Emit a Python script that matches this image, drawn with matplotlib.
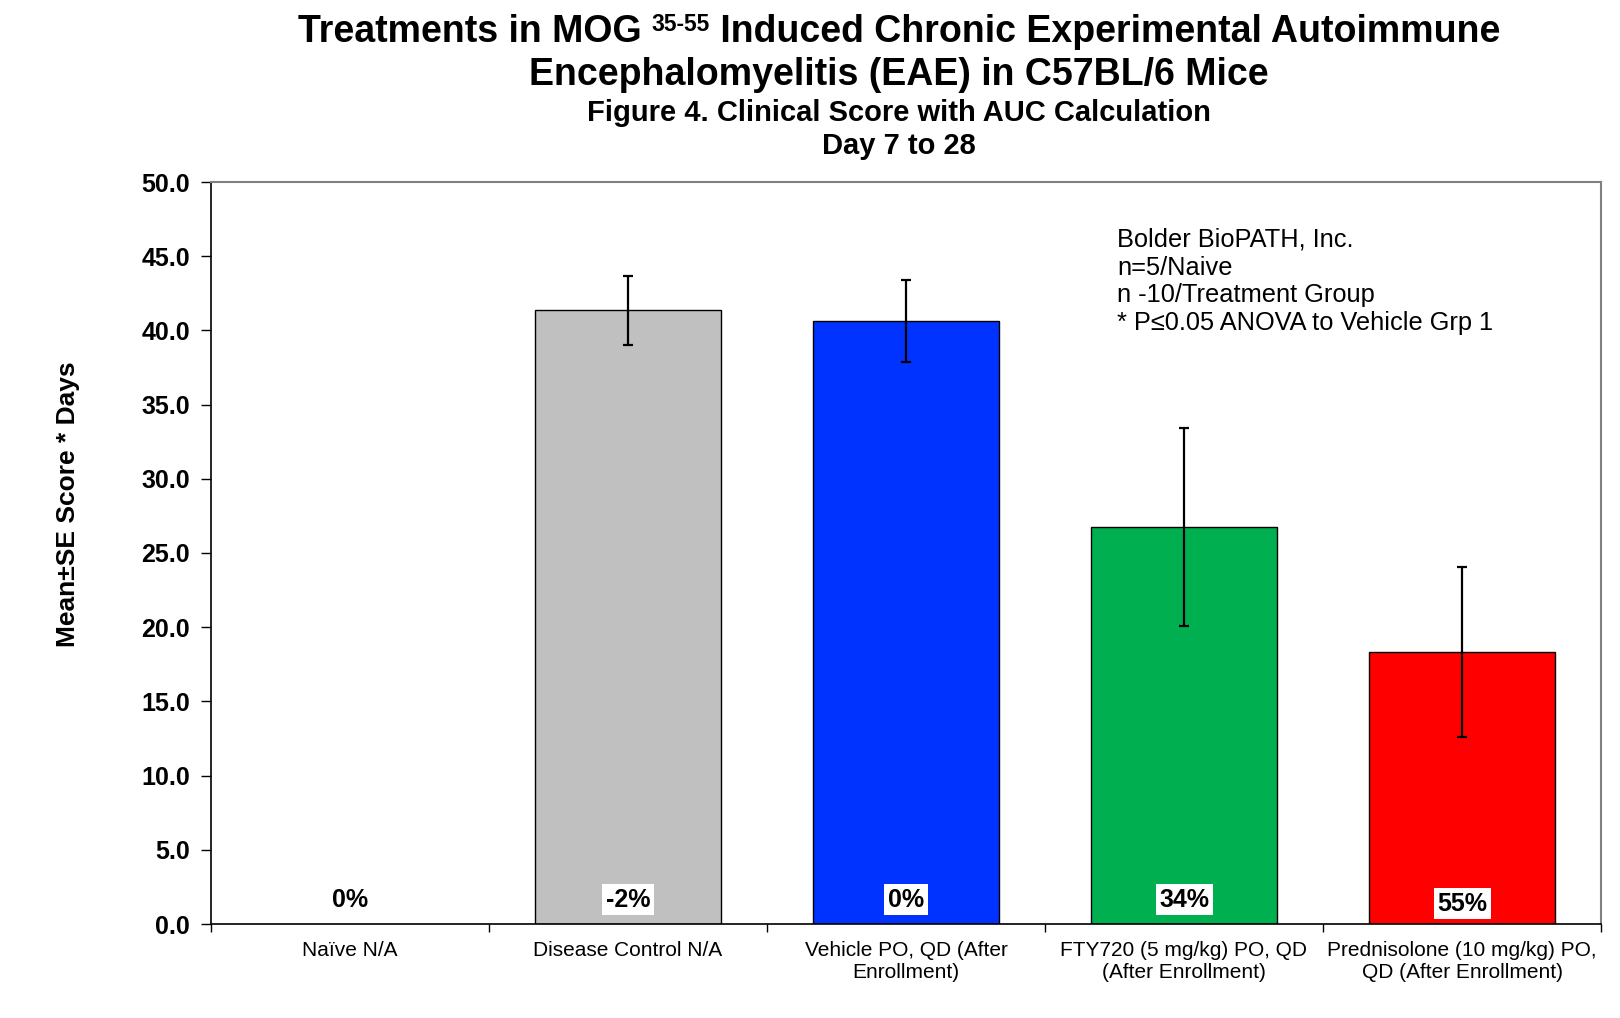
import matplotlib
matplotlib.use("Agg")
import matplotlib.pyplot as plt
import numpy as np

plt.rcParams['font.family'] = ['Liberation Sans', 'DejaVu Sans']

categories = ["Naïve N/A", "Disease Control N/A", "Vehicle PO, QD (After\nEnrollment)",
              "FTY720 (5 mg/kg) PO, QD\n(After Enrollment)", "Prednisolone (10 mg/kg) PO,\nQD (After Enrollment)"]
means = [0.0, 41.35, 40.63, 26.75, 18.31]
sems = [0.0, 2.33, 2.76, 6.70, 5.73]
pct_labels = ["0%", "-2%", "0%", "34%", "55%"]
pct_y = [1.65, 1.65, 1.65, 1.65, 1.35]
colors = ["#FFFFFF", "#C0C0C0", "#0033FF", "#00B050", "#FF0000"]
yticks = np.arange(0, 50.1, 5)

W, H = 1620, 1018
fig = plt.figure(figsize=(W/100, H/100), dpi=100)
ax = fig.add_axes([211/W, 1-924/H, (1601-211)/W, (924-182)/H])

x = np.arange(len(categories))
ax.bar(x, means, width=0.666, color=colors, edgecolor=["none"] + ["black"]*4, linewidth=1.0, zorder=2)
ax.errorbar(x[1:], means[1:], yerr=sems[1:], fmt='none', ecolor='black', elinewidth=1.6,
            capsize=3.6, capthick=1.6, zorder=3)

for xi, lab, yy in zip(x, pct_labels, pct_y):
    ax.text(xi, yy, lab, ha='center', va='center', fontsize=18, fontweight='bold',
            bbox=dict(facecolor='white', edgecolor='none', pad=2.5), zorder=4)

ax.set_xlim(-0.5, len(categories)-0.5)
ax.set_ylim(0, 50)
ax.set_yticks(yticks)
ax.set_yticklabels([f"{v:.1f}" for v in yticks], fontsize=18, fontweight='bold')
ax.tick_params(axis='y', direction='out', length=7, width=1, pad=8)
ax.set_xticks(x)
ax.set_xticklabels(categories, fontsize=15, linespacing=1.2)
ax.tick_params(axis='x', which='major', length=0, pad=12)
ax.set_xticks(np.arange(-0.5, len(categories), 1), minor=True)
ax.tick_params(axis='x', which='minor', direction='out', length=6, width=1)

for s in ['top', 'right']:
    ax.spines[s].set_color('#808080')
    ax.spines[s].set_linewidth(1.5)
for s in ['left', 'bottom']:
    ax.spines[s].set_color('black')
    ax.spines[s].set_linewidth(1.2)

fig.text(68/W, 1-504/H, "Mean±SE Score * Days", rotation=90, ha='center', va='center',
         fontsize=19, fontweight='bold')

ax.text(1117/W, 1-228/H, "Bolder BioPATH, Inc.\nn=5/Naive\nn -10/Treatment Group\n* P≤0.05 ANOVA to Vehicle Grp 1",
        transform=fig.transFigure, ha='left', va='top', fontsize=18.3, linespacing=1.19)

# Title line 1 with superscript
renderer = fig.canvas.get_renderer()
parts = [("Treatments in MOG ", 27, 0), ("35-55", 16.5, 11), (" Induced Chronic Experimental Autoimmune", 27, 0)]
widths = []
for txt, fs, rise in parts:
    t = fig.text(0, 0, txt, fontsize=fs, fontweight='bold')
    bb = t.get_window_extent(renderer)
    widths.append(bb.width)
    t.remove()
cx = 899
xs = cx - sum(widths)/2
base_y = 1 - 42/H
for (txt, fs, rise), w in zip(parts, widths):
    fig.text(xs/W, base_y + rise/H, txt, fontsize=fs, fontweight='bold', ha='left', va='baseline')
    xs += w

fig.text(cx/W, 1-85/H, "Encephalomyelitis (EAE) in C57BL/6 Mice", fontsize=27, fontweight='bold',
         ha='center', va='baseline')
fig.text(cx/W, 1-121/H, "Figure 4. Clinical Score with AUC Calculation", fontsize=21, fontweight='bold',
         ha='center', va='baseline')
fig.text(cx/W, 1-154/H, "Day 7 to 28", fontsize=21, fontweight='bold', ha='center', va='baseline')

fig.savefig("out.png", dpi=100, facecolor='white')
